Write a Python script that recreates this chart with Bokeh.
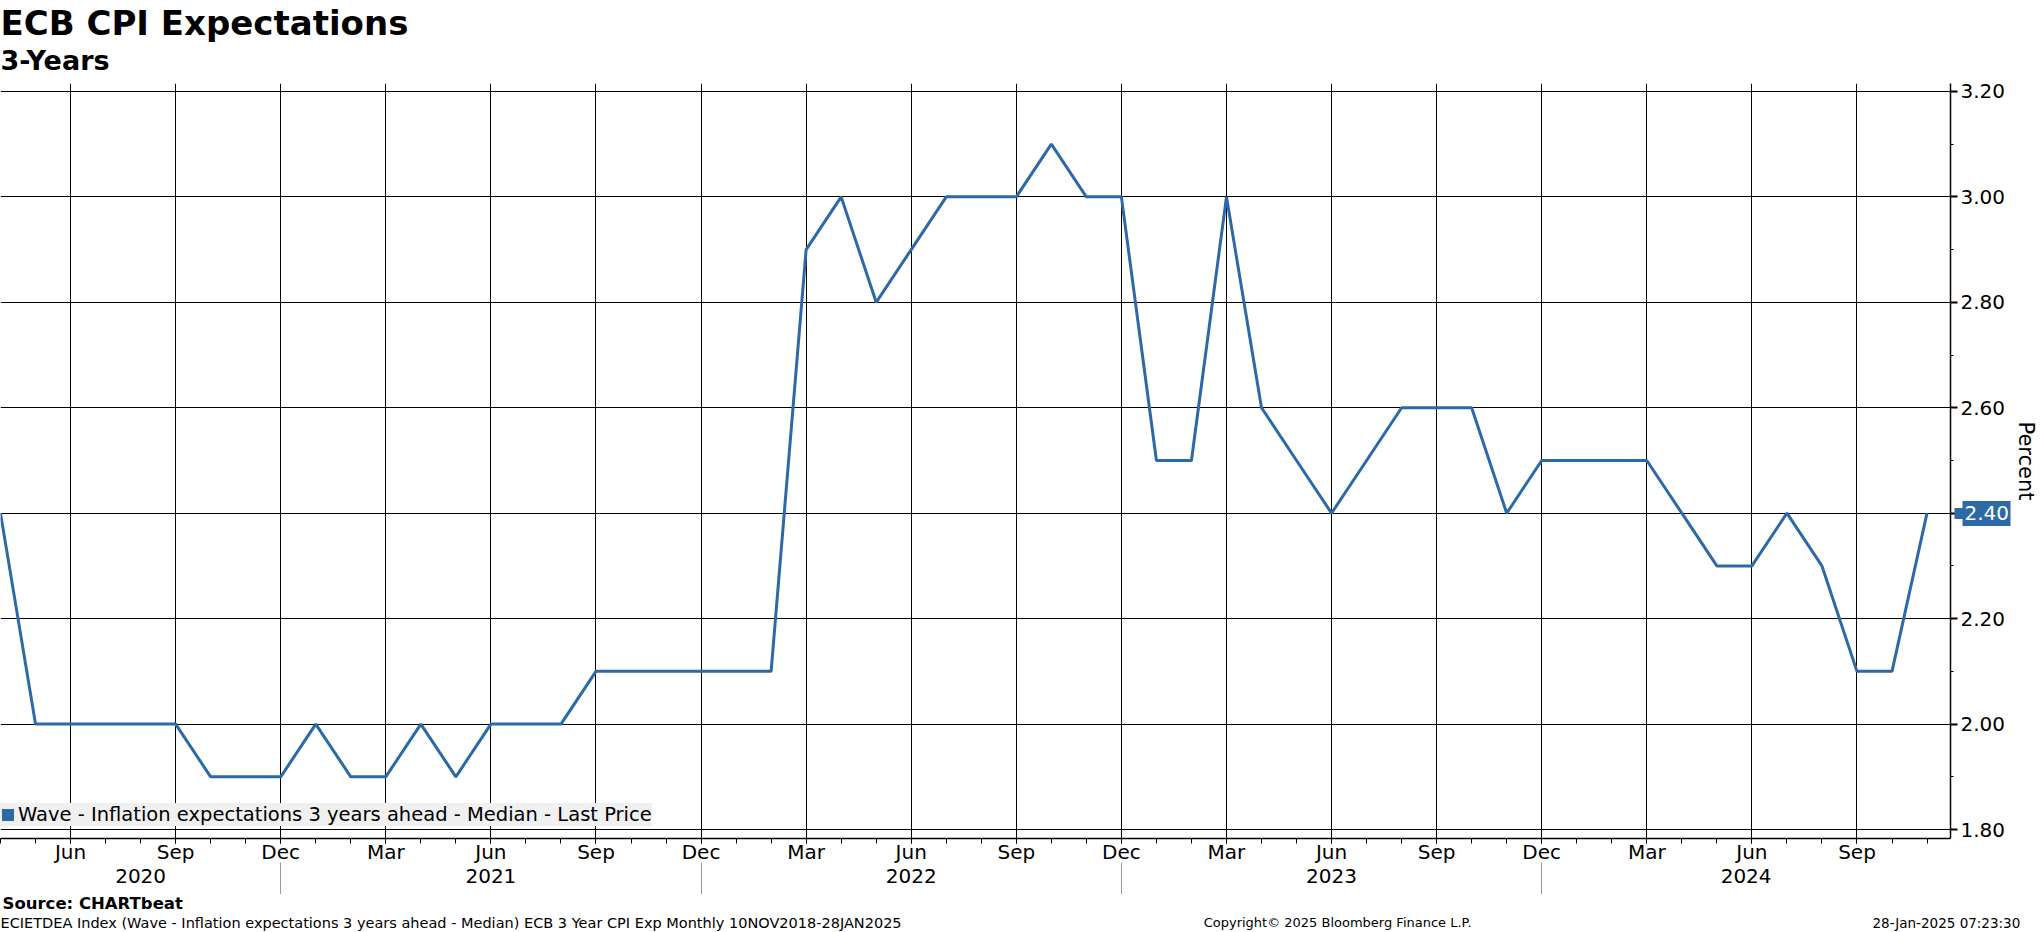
import numpy as np
import pandas as pd
from bokeh.plotting import figure
from bokeh.layouts import column
from bokeh.models import (Range1d, LinearAxis, FixedTicker, Legend, LegendItem, Title,
                          NumeralTickFormatter)
from bokeh.embed import file_html
from bokeh.resources import INLINE

# ---------------- data ----------------
periods = pd.period_range("2020-04", "2024-11", freq="M")
values = [2.4, 2.0, 2.0, 2.0, 2.0, 2.0, 1.9, 1.9, 1.9, 2.0, 1.9, 1.9,
          2.0, 1.9, 2.0, 2.0, 2.0, 2.1, 2.1, 2.1, 2.1, 2.1, 2.1, 2.9,
          3.0, 2.8, 2.9, 3.0, 3.0, 3.0, 3.1, 3.0, 3.0, 2.5, 2.5, 3.0,
          2.6, 2.5, 2.4, 2.5, 2.6, 2.6, 2.6, 2.4, 2.5, 2.5, 2.5, 2.5,
          2.4, 2.3, 2.3, 2.4, 2.3, 2.1, 2.1, 2.4]
month_labels = {3: "Mar", 6: "Jun", 9: "Sep", 12: "Dec"}
years = ["2020", "2021", "2022", "2023", "2024"]
y_ticks = [1.8, 2.0, 2.2, 2.4, 2.6, 2.8, 3.0, 3.2]
series_name = "Wave - Inflation expectations 3 years ahead - Median - Last Price"

title_text = "ECB CPI Expectations"
subtitle_text = "3-Years"
source_text = "Source: CHARTbeat"
footer_left = "ECIETDEA Index (Wave - Inflation expectations 3 years ahead - Median) ECB 3 Year CPI Exp  Monthly 10NOV2018-28JAN2025"
footer_mid = "Copyright\u00a9 2025 Bloomberg Finance L.P."
footer_right = "28-Jan-2025 07:23:30"

# ---------------- derived positions ----------------
x = np.arange(len(periods), dtype=float)          # month index (0 = Apr 2020)
x_end = x[-1] + 0.67
all_months = list(x) + [x[-1] + 1]
major = [float(i) for i, pr in enumerate(periods) if pr.month in month_labels]
major_over = {float(i): month_labels[pr.month] for i, pr in enumerate(periods) if pr.month in month_labels}
dec_pos = [float(i) for i, pr in enumerate(periods) if pr.month == 12]
bounds = [0.0] + dec_pos + [x_end]
year_centers = [round((bounds[k] + bounds[k + 1]) / 2, 3) for k in range(len(years))]
year_over = {c: yv for c, yv in zip(year_centers, years)}
last = values[-1]

BLUE = "#2d69a6"
FONT = "DejaVu Sans"

W = 2041
HM, HF = 894, 38
FRAME_W = 1953
p = figure(width=W, height=HM, output_backend="svg", toolbar_location=None,
           x_range=Range1d(0, x_end), y_range=Range1d(1.783, 3.215),
           y_axis_location="right", min_border_left=0, min_border_right=W - FRAME_W,
           min_border_top=82, min_border_bottom=56)
p.title.visible = False
p.outline_line_color = None
p.background_fill_color = "white"
p.border_fill_color = "white"

# titles (first added sits closest to the plot)
p.add_layout(Title(text=" ", text_font_size="1px", standoff=5), "above")
p.add_layout(Title(text=subtitle_text, align="left", text_font=FONT, text_font_size="27px",
                   text_font_style="bold", text_color="black", standoff=0), "above")
p.add_layout(Title(text=title_text, align="left", text_font=FONT, text_font_size="34px",
                   text_font_style="bold", text_color="black", standoff=0), "above")

# grids
p.xgrid.ticker = FixedTicker(ticks=major)
p.ygrid.ticker = FixedTicker(ticks=y_ticks)
for g in (p.xgrid, p.ygrid):
    g.grid_line_color = "black"
    g.grid_line_width = 1
    g.grid_line_alpha = 1

# data line
p.line(x, values, line_color=BLUE, line_width=3)

# x axis (months)
xa = p.xaxis[0]
xa.ticker = FixedTicker(ticks=major, minor_ticks=all_months)
xa.major_label_overrides = major_over
xa.axis_line_color = "black"
xa.axis_line_width = 1.5
xa.major_tick_in = 0
xa.major_tick_out = 5
xa.minor_tick_in = 0
xa.minor_tick_out = 5
xa.major_tick_line_color = "black"
xa.minor_tick_line_color = "black"
xa.major_label_text_font = FONT
xa.major_label_text_font_size = "20px"
xa.major_label_text_color = "black"
xa.major_label_standoff = -4

# x axis (years + separators)
yr = LinearAxis(ticker=FixedTicker(ticks=year_centers, minor_ticks=dec_pos),
                major_label_overrides=year_over)
yr.axis_line_color = None
yr.major_tick_line_color = None
yr.major_tick_in = 0
yr.major_tick_out = 0
yr.minor_tick_line_color = "#9a9a9a"
yr.minor_tick_in = 4
yr.minor_tick_out = 37
yr.major_label_text_font = FONT
yr.major_label_text_font_size = "20px"
yr.major_label_text_color = "black"
yr.major_label_standoff = -35
p.add_layout(yr, "below")

# y axis right
ya = p.yaxis[0]
ya.ticker = FixedTicker(ticks=y_ticks, minor_ticks=list(np.round(np.arange(1.8, 3.21, 0.1), 2)))
ya.formatter = NumeralTickFormatter(format="0.00")
ya.major_label_overrides = {last: ""}
ya.axis_line_color = "black"
ya.axis_line_width = 1.5
ya.major_tick_in = 0
ya.major_tick_out = 7
ya.major_tick_line_width = 2
ya.minor_tick_in = 0
ya.minor_tick_out = 3
ya.major_tick_line_color = "black"
ya.minor_tick_line_color = "black"
ya.major_label_text_font = FONT
ya.major_label_text_font_size = "20px"
ya.major_label_text_color = "black"
ya.major_label_standoff = 3

# last-price tag (drawn as a second right axis) + "Percent" label
pa = LinearAxis(ticker=FixedTicker(ticks=[last], minor_ticks=[last]))
pa.formatter = NumeralTickFormatter(format="0.00")
pa.axis_line_color = None
pa.major_tick_line_color = BLUE
pa.major_tick_line_width = 25
pa.major_tick_in = 46
pa.major_tick_out = 2
pa.minor_tick_line_color = BLUE
pa.minor_tick_line_width = 11
pa.minor_tick_in = 54
pa.minor_tick_out = 0
pa.major_label_standoff = -46
pa.major_label_text_font = FONT
pa.major_label_text_font_size = "20px"
pa.major_label_text_color = "white"
pa.axis_label = "Percent"
pa.axis_label_text_font = FONT
pa.axis_label_text_font_size = "21px"
pa.axis_label_text_font_style = "normal"
pa.axis_label_text_color = "black"
pa.axis_label_standoff = 2
p.add_layout(pa, "right")

# legend (zero-area quad at the first data point acts as the legend swatch)
sw = p.quad(left=[x[0]], right=[x[0]], bottom=[values[0]], top=[values[0]],
            fill_color=BLUE, line_color=None)
leg = Legend(items=[LegendItem(label=series_name, renderers=[sw])], location=(0, 12),
             background_fill_color="#f0f0f0", background_fill_alpha=1,
             border_line_color=None, padding=12, margin=0, spacing=0,
             glyph_width=15, glyph_height=15, label_standoff=3, label_height=21,
             label_text_font=FONT, label_text_font_size="19.5px", label_text_color="black")
p.add_layout(leg, "center")

# footer strip
f = figure(width=W, height=HF, output_backend="svg", toolbar_location=None,
           x_range=Range1d(0, FRAME_W), y_range=Range1d(0, HF),
           x_axis_location=None, y_axis_location=None,
           min_border_left=0, min_border_right=0, min_border_top=0, min_border_bottom=0)
f.outline_line_color = None
f.xgrid.visible = False
f.ygrid.visible = False
f.background_fill_color = "white"
f.border_fill_color = "white"
f.text(x=[2], y=[29], text=[source_text], text_font_size="16.5px", text_font_style="bold",
       text_baseline="middle", text_color="black", text_font={"value": FONT})
f.text(x=[0], y=[10], text=[footer_left], text_font_size="14.5px",
       text_baseline="middle", text_color="black", text_font={"value": FONT})
f.text(x=[1205], y=[10], text=[footer_mid], text_font_size="13px",
       text_baseline="middle", text_color="black", text_font={"value": FONT})
fa = LinearAxis(ticker=FixedTicker(ticks=[10]), major_label_overrides={10: footer_right})
fa.axis_line_color = None
fa.major_tick_line_color = None
fa.minor_tick_line_color = None
fa.major_tick_in = 0
fa.major_tick_out = 0
fa.major_label_standoff = -78
fa.major_label_text_font = FONT
fa.major_label_text_font_size = "13.5px"
fa.major_label_text_color = "black"
f.add_layout(fa, "right")

layout = column(p, f, spacing=0)
open("out.html", "w").write(file_html(layout, INLINE))
